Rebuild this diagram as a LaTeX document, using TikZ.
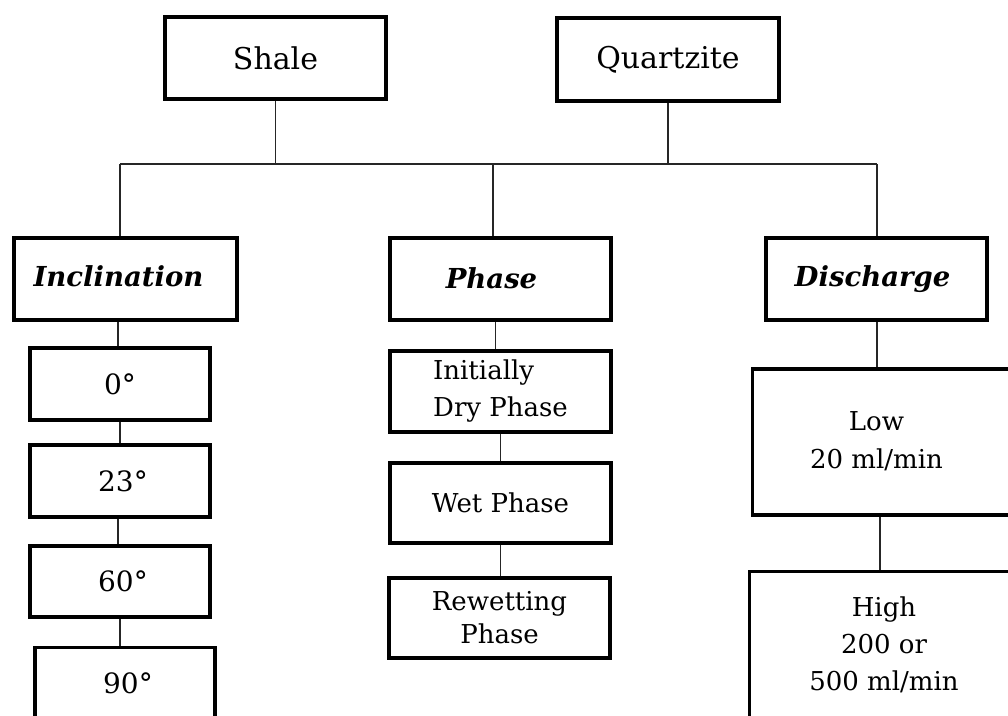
\documentclass[tikz,border=0pt]{standalone}
\usepackage{fontspec}
\setmainfont{DejaVu Serif}
\begin{document}
\begin{tikzpicture}[x=1pt,y=-1pt,
  box/.style={draw=black,line width=3.6pt,rectangle,inner sep=0pt,align=center},
  topbox/.style={box,font=\fontsize{30}{36}\selectfont},
  headbox/.style={box,font=\fontsize{27.5}{34}\selectfont\bfseries\itshape},
  degbox/.style={box,font=\fontsize{28}{34}\selectfont},
  childbox/.style={box,font=\fontsize{26}{37}\selectfont},
  conn/.style={draw=black!85,line width=1.3pt}]
\useasboundingbox (0,0) rectangle (1008,715);
\begin{scope}
\clip (0,0) rectangle (1008,715);
% top
\node[topbox,minimum width=221pt,minimum height=82pt] (shale) at (275.5,58) {Shale};
\node[topbox,minimum width=222pt,minimum height=83pt] (quartz) at (668,59.5) {Quartzite};
% headers
\node[headbox,minimum width=223pt,minimum height=82pt] (incl) at (125.5,279) {\raisebox{6pt}{Inclination}\hspace{14pt}};
\node[headbox,minimum width=221pt,minimum height=82pt] (phase) at (500.5,279) {\raisebox{2pt}{Phase}\hspace{18pt}};
\node[headbox,minimum width=221pt,minimum height=82pt] (disch) at (876.5,279) {\raisebox{2pt}{Discharge}\hspace{8pt}};
% inclination children
\node[degbox,minimum width=180pt,minimum height=72pt] (d0) at (120,384) {0°};
\node[degbox,minimum width=180pt,minimum height=72pt] (d23) at (120,481) {\hspace{6pt}23°};
\node[degbox,minimum width=180pt,minimum height=71pt] (d60) at (120,581.5) {\hspace{6pt}60°};
\node[degbox,minimum width=180pt,minimum height=71pt] (d90) at (125,683) {\hspace{6pt}90°};
% phase children
\node[childbox,minimum width=221pt,minimum height=81pt,align=left] (dry) at (500.5,391.5) {Initially\\Dry Phase};
\node[childbox,minimum width=221pt,minimum height=80pt] (wet) at (500.5,503) {Wet Phase};
\node[childbox,minimum width=221pt,minimum height=80pt,font=\fontsize{26}{33}\selectfont] (rewet) at (499.5,618) {Rewetting\\Phase};
% discharge children
\node[childbox,minimum width=266pt,minimum height=146pt] (low) at (885.5,442) {\raisebox{8pt}{\begin{tabular}{@{}c@{}}Low\\[1pt]20 ml/min\end{tabular}}\hspace{18pt}};
\node[childbox,minimum width=269pt,minimum height=147pt] (high) at (884,645) {High\\200 or\\500 ml/min};
\end{scope}
% bus
\coordinate (busL) at (120,164);
\coordinate (busM) at (493,164);
\coordinate (busR) at (877,164);
\draw[conn] (busL) -- (busR);
\draw[conn] (shale.south) -- (shale.south |- busL);
\draw[conn] (quartz.south) -- (quartz.south |- busL);
\draw[conn] (busL) -- (busL |- incl.north);
\draw[conn] (busM) -- (busM |- phase.north);
\draw[conn] (busR) -- (busR |- disch.north);
% inclination chain
\draw[conn] (d0.north) ++(-2,0) coordinate (c1) -- (c1 |- incl.south);
\draw[conn] (d0.south) -- (d23.north);
\draw[conn] (d23.north |- d23.south) ++(-2,0) coordinate (c2) -- (c2 |- d60.north);
\draw[conn] (d60.south) -- (d60.south |- d90.north);
% phase chain
\draw[conn] (phase.south) ++(-5,0) coordinate (c3) -- (c3 |- dry.north);
\draw[conn] (dry.south) -- (wet.north);
\draw[conn] (wet.south) -- (wet.south |- rewet.north);
% discharge chain
\draw[conn] (busR |- disch.south) -- (busR |- low.north);
\draw[conn] (880,0 |- low.south) coordinate (c4) -- (c4 |- high.north);
\end{tikzpicture}
\end{document}
